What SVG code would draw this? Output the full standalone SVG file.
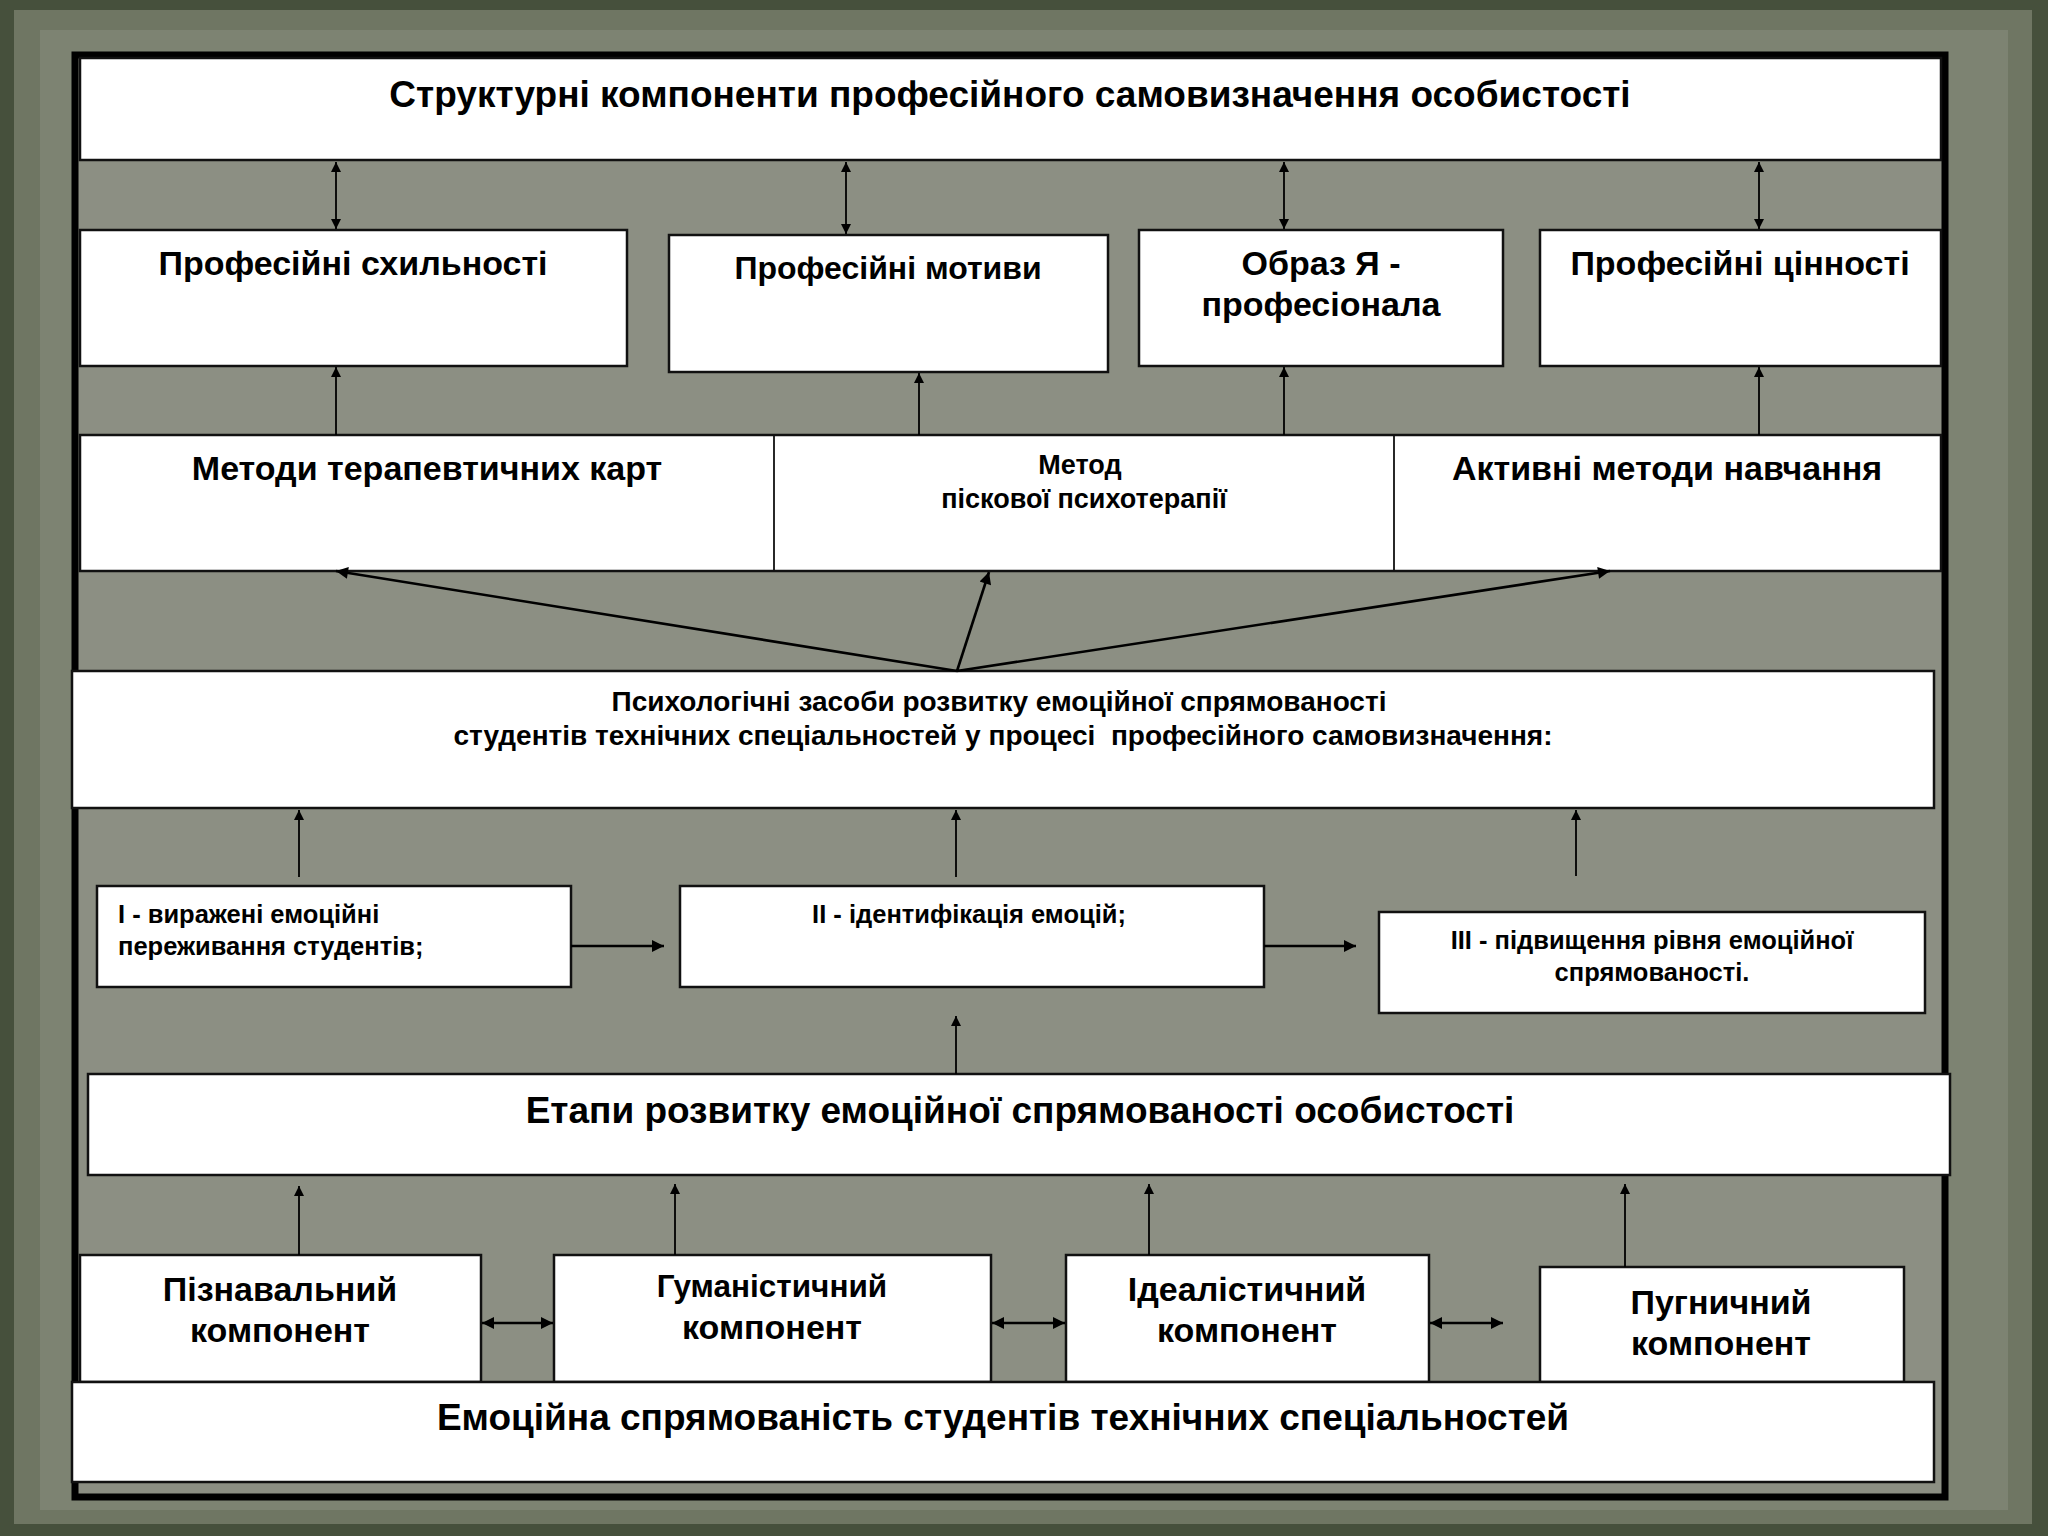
<svg xmlns="http://www.w3.org/2000/svg" width="2048" height="1536" viewBox="0 0 2048 1536">
<style>
.box{fill:#fff;stroke:#111;stroke-width:2.5}
.t{font-family:"Liberation Sans",Arial,sans-serif;font-weight:bold;fill:#000;text-anchor:middle}
.s{text-anchor:start}
.c{stroke:#000;stroke-width:1.8;fill:none}
.c2{stroke:#000;stroke-width:2.6;fill:none}
</style>
<defs>
<marker id="ah" viewBox="0 0 10 10" refX="10" refY="5" markerWidth="10" markerHeight="10" markerUnits="userSpaceOnUse" orient="auto-start-reverse">
<path d="M0,0 L10,5 L0,10 z" fill="#000"/>
</marker>
<marker id="am" viewBox="0 0 10 10" refX="10" refY="5" markerWidth="16" markerHeight="12" markerUnits="userSpaceOnUse" orient="auto-start-reverse">
<path d="M0,0 L10,5 L0,10 z" fill="#000"/>
</marker>
<marker id="ab" viewBox="0 0 10 10" refX="10" refY="5" markerWidth="12" markerHeight="14" markerUnits="userSpaceOnUse" orient="auto-start-reverse">
<path d="M0,0 L10,5 L0,10 z" fill="#000"/>
</marker>
</defs>
<rect x="0" y="0" width="2048" height="1536" fill="#46503c"/>
<rect x="14" y="10" width="2018" height="1514" fill="#6f7663"/>
<rect x="40" y="30" width="1968" height="1480" fill="#7d8372"/>
<rect x="75" y="55" width="1870" height="1442" fill="#8c8f83" stroke="#000" stroke-width="7"/>

<g id="title"><rect class="box" x="80" y="58" width="1861" height="102"/>
<text class="t" x="1010" y="107" font-size="37">Структурні компоненти професійного самовизначення особистості</text></g>

<g id="n-skhylnosti"><rect class="box" x="80" y="230" width="547" height="136"/>
<text class="t" x="353" y="275" font-size="34">Професійні схильності</text></g>
<g id="n-motyvy"><rect class="box" x="669" y="235" width="439" height="137"/>
<text class="t" x="888" y="279" font-size="32">Професійні мотиви</text></g>
<g id="n-obraz"><rect class="box" x="1139" y="230" width="364" height="136"/>
<text class="t" x="1321" y="275" font-size="34">Образ Я -</text>
<text class="t" x="1321" y="316" font-size="34">професіонала</text></g>
<g id="n-tsinnosti"><rect class="box" x="1540" y="230" width="401" height="136"/>
<text class="t" x="1740" y="275" font-size="34">Професійні цінності</text></g>

<g id="n-methods"><rect class="box" x="80" y="435" width="1861" height="136"/>
<line x1="774" y1="435" x2="774" y2="571" stroke="#111" stroke-width="1.8"/>
<line x1="1394" y1="435" x2="1394" y2="571" stroke="#111" stroke-width="1.8"/>
<text class="t" x="427" y="480" font-size="34">Методи терапевтичних карт</text>
<text class="t" x="1080" y="474" font-size="27">Метод</text>
<text class="t" x="1084" y="508" font-size="27" font-weight="normal">піскової психотерапії</text>
<text class="t" x="1667" y="480" font-size="34">Активні методи навчання</text></g>

<g id="n-psych"><rect class="box" x="72" y="671" width="1862" height="137"/>
<text class="t" x="999" y="711" font-size="28">Психологічні засоби розвитку емоційної спрямованості</text>
<text class="t" x="1003" y="745" font-size="28" xml:space="preserve">студентів технічних спеціальностей у процесі  професійного самовизначення:</text></g>

<g id="n-stage1"><rect class="box" x="97" y="886" width="474" height="101"/>
<text class="t s" x="118" y="923" font-size="25.5">I - виражені емоційні</text>
<text class="t s" x="118" y="955" font-size="25.5">переживання студентів;</text></g>
<g id="n-stage2"><rect class="box" x="680" y="886" width="584" height="101"/>
<text class="t" x="969" y="923" font-size="25.5">II - ідентифікація емоцій;</text></g>
<g id="n-stage3"><rect class="box" x="1379" y="912" width="546" height="101"/>
<text class="t" x="1652" y="949" font-size="25.5">III - підвищення рівня емоційної</text>
<text class="t" x="1652" y="981" font-size="25.5">спрямованості.</text></g>

<g id="n-etapy"><rect class="box" x="88" y="1074" width="1862" height="101"/>
<text class="t" x="1020" y="1123" font-size="37">Етапи розвитку емоційної спрямованості особистості</text></g>

<g id="n-piznav"><rect class="box" x="80" y="1255" width="401" height="127"/>
<text class="t" x="280" y="1301" font-size="34">Пізнавальний</text>
<text class="t" x="280" y="1342" font-size="34">компонент</text></g>
<g id="n-human"><rect class="box" x="554" y="1255" width="437" height="127"/>
<text class="t" x="772" y="1297" font-size="31.5">Гуманістичний</text>
<text class="t" x="772" y="1339" font-size="34">компонент</text></g>
<g id="n-ideal"><rect class="box" x="1066" y="1255" width="363" height="127"/>
<text class="t" x="1247" y="1301" font-size="34">Ідеалістичний</text>
<text class="t" x="1247" y="1342" font-size="34">компонент</text></g>
<g id="n-puhn"><rect class="box" x="1540" y="1267" width="364" height="115"/>
<text class="t" x="1721" y="1314" font-size="34">Пугничний</text>
<text class="t" x="1721" y="1355" font-size="34">компонент</text></g>

<g id="n-bottom"><rect class="box" x="72" y="1382" width="1862" height="100"/>
<text class="t" x="1003" y="1430" font-size="37">Емоційна спрямованість студентів технічних спеціальностей</text></g>

<g id="connectors">
<line class="c" x1="336" y1="162" x2="336" y2="229" marker-start="url(#ah)" marker-end="url(#ah)"/>
<line class="c" x1="846" y1="162" x2="846" y2="234" marker-start="url(#ah)" marker-end="url(#ah)"/>
<line class="c" x1="1284" y1="162" x2="1284" y2="229" marker-start="url(#ah)" marker-end="url(#ah)"/>
<line class="c" x1="1759" y1="162" x2="1759" y2="229" marker-start="url(#ah)" marker-end="url(#ah)"/>

<line class="c" x1="336" y1="435" x2="336" y2="367" marker-end="url(#ah)"/>
<line class="c" x1="919" y1="435" x2="919" y2="373" marker-end="url(#ah)"/>
<line class="c" x1="1284" y1="435" x2="1284" y2="367" marker-end="url(#ah)"/>
<line class="c" x1="1759" y1="435" x2="1759" y2="367" marker-end="url(#ah)"/>

<line class="c2" x1="957" y1="671" x2="336" y2="571" marker-end="url(#am)"/>
<line class="c2" x1="957" y1="671" x2="989" y2="572" marker-end="url(#am)"/>
<line class="c2" x1="957" y1="671" x2="1610" y2="571" marker-end="url(#am)"/>

<line class="c" x1="299" y1="877" x2="299" y2="810" marker-end="url(#ah)"/>
<line class="c" x1="956" y1="877" x2="956" y2="810" marker-end="url(#ah)"/>
<line class="c" x1="1576" y1="876" x2="1576" y2="810" marker-end="url(#ah)"/>

<line class="c2" x1="571" y1="946" x2="664" y2="946" marker-end="url(#ab)"/>
<line class="c2" x1="1264" y1="946" x2="1356" y2="946" marker-end="url(#ab)"/>

<line class="c" x1="956" y1="1074" x2="956" y2="1016" marker-end="url(#ah)"/>

<line class="c" x1="299" y1="1255" x2="299" y2="1186" marker-end="url(#ah)"/>
<line class="c" x1="675" y1="1255" x2="675" y2="1184" marker-end="url(#ah)"/>
<line class="c" x1="1149" y1="1255" x2="1149" y2="1184" marker-end="url(#ah)"/>
<line class="c" x1="1625" y1="1267" x2="1625" y2="1184" marker-end="url(#ah)"/>

<line class="c2" x1="482" y1="1323" x2="553" y2="1323" marker-start="url(#ab)" marker-end="url(#ab)"/>
<line class="c2" x1="992" y1="1323" x2="1065" y2="1323" marker-start="url(#ab)" marker-end="url(#ab)"/>
<line class="c2" x1="1430" y1="1323" x2="1503" y2="1323" marker-start="url(#ab)" marker-end="url(#ab)"/>
</g>
</svg>
